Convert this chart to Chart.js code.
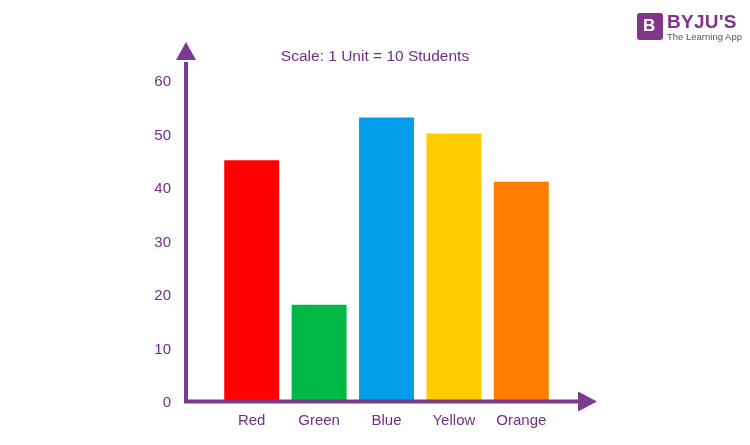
<!DOCTYPE html>
<html>
<head>
<meta charset="utf-8">
<script src="https://cdn.jsdelivr.net/npm/chart.js@4/dist/chart.umd.min.js"></script>
<style>
    body { margin: 0; background: #fff; font-family: "Liberation Sans", Arial, sans-serif; }
    #wrap { position: relative; width: 750px; height: 445px; }
    #title { position: absolute; left: 0; width: 750px; top: 47px; text-align: center; font-size: 15.5px; color: #6e2f84; }
    #logo { position: absolute; left: 637px; top: 13px; }
    #logo .mark { position: absolute; left: 0; top: 0; width: 26px; height: 27px; background: #813588; border-radius: 3px; }
    #logo .mark span { position: absolute; left: 6px; top: 3px; color: #fff; font-weight: bold; font-size: 17px; }
    #logo .name { position: absolute; left: 30px; top: -2px; color: #813588; font-weight: bold; font-size: 19px; letter-spacing: 0.3px; white-space: nowrap; }
    #logo .tag { position: absolute; left: 30px; top: 18px; color: #555; font-size: 9.5px; white-space: nowrap; }
</style>
</head>
<body>
<div id="wrap">
    <canvas id="barChartCanvas" width="750" height="445"></canvas>
    <div id="title">Scale: 1 Unit = 10 Students</div>
    <div id="logo">
        <div class="mark"><span>B</span></div>
        <div class="name">BYJU'S</div>
        <div class="tag">The Learning App</div>
    </div>
</div>
<script>
    'use strict';

    const categories = ['Red', 'Green', 'Blue', 'Yellow', 'Orange'];
    const studentValues = [45, 18, 53, 50, 41];
    const barColors = ['#ff0000', '#00b945', '#039ee9', '#ffcc00', '#ff7d00'];
    const yTicks = [0, 10, 20, 30, 40, 50, 60];

    const purple = '#7b3a8e';
    const textPurple = '#6e2f84';

    // purple axes with arrow heads, drawn left of the bars
    const arrowAxes = {
        id: 'arrowAxes',
        afterDatasetsDraw: function (chart) {
            const ctx = chart.ctx;
            const area = chart.chartArea;
            const y0 = chart.scales.y.getPixelForValue(0) + 0.5;
            const ax = area.left - 32;
            const xEnd = area.right + 23;
            const yEnd = chart.scales.y.getPixelForValue(60) - 20;
            ctx.save();
            ctx.strokeStyle = purple;
            ctx.fillStyle = purple;
            ctx.lineWidth = 4;
            ctx.beginPath();
            ctx.moveTo(ax, y0 + 2);
            ctx.lineTo(ax, yEnd + 2);
            ctx.moveTo(ax - 2, y0);
            ctx.lineTo(xEnd + 2, y0);
            ctx.stroke();
            // up arrow
            ctx.beginPath();
            ctx.moveTo(ax - 10, yEnd);
            ctx.lineTo(ax + 10, yEnd);
            ctx.lineTo(ax, yEnd - 18);
            ctx.closePath();
            ctx.fill();
            // right arrow
            ctx.beginPath();
            ctx.moveTo(xEnd, y0 - 10);
            ctx.lineTo(xEnd, y0 + 10);
            ctx.lineTo(xEnd + 19, y0);
            ctx.closePath();
            ctx.fill();
            ctx.restore();
        }
    };

    const data = {
        labels: categories,
        datasets: [{
            data: studentValues,
            backgroundColor: barColors,
            borderWidth: 0,
            barPercentage: 0.815,
            categoryPercentage: 1
        }]
    };

    const config = {
        type: 'bar',
        data: data,
        options: {
            responsive: false,
            animation: false,
            layout: { padding: { left: 0, right: 195, top: 80, bottom: 0 } },
            plugins: {
                legend: { display: false },
                tooltip: { enabled: false }
            },
            scales: {
                x: {
                    grid: { display: false, drawTicks: false },
                    border: { display: false },
                    afterFit: function (scale) { scale.height = 44; },
                    ticks: {
                        padding: 11,
                        color: textPurple,
                        font: { family: '"Liberation Sans", Arial, sans-serif', size: 15 }
                    }
                },
                y: {
                    min: 0,
                    max: 60,
                    // tick marks hidden, their length only pushes the labels left
                    grid: { display: false, drawTicks: true, tickLength: 42 },
                    border: { display: false },
                    afterFit: function (scale) { scale.width = 218; },
                    afterBuildTicks: function (scale) {
                        scale.ticks = yTicks.map(function (v) { return { value: v }; });
                    },
                    ticks: {
                        padding: 5,
                        labelOffset: 2,
                        color: textPurple,
                        font: { family: '"Liberation Sans", Arial, sans-serif', size: 15 }
                    }
                }
            }
        },
        plugins: [arrowAxes]
    };

    const ctx = document.getElementById('barChartCanvas').getContext('2d');
    const myChart = new Chart(ctx, config);
</script>
</body>
</html>
